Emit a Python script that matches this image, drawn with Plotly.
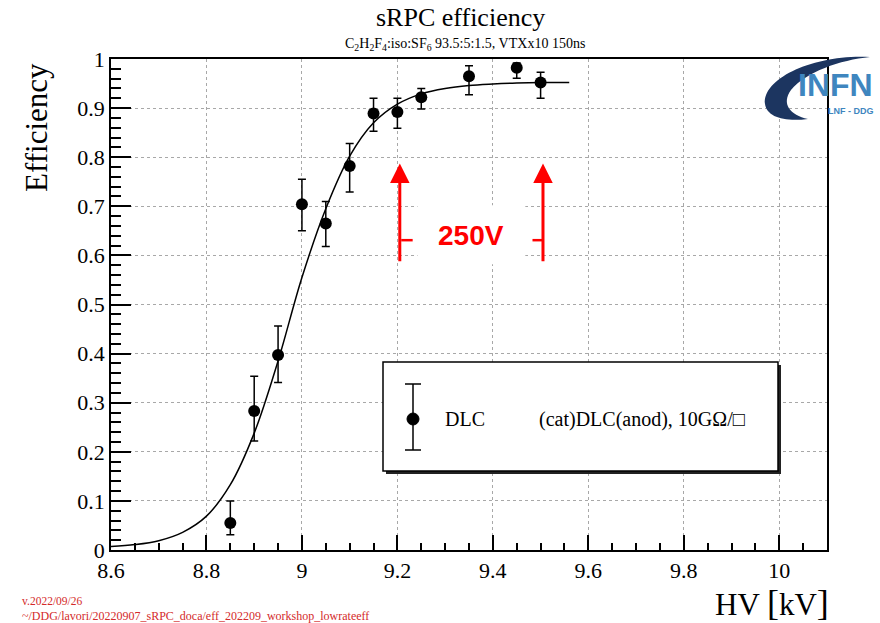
import plotly.graph_objects as go

# ---------------- data ----------------
hv = [8.85, 8.90, 8.95, 9.00, 9.05, 9.10, 9.15, 9.20, 9.25, 9.35, 9.45, 9.50]
eff = [0.055, 0.283, 0.397, 0.704, 0.665, 0.782, 0.889, 0.892, 0.922, 0.965, 0.982, 0.952]
err_up = [0.045, 0.071, 0.059, 0.051, 0.045, 0.046, 0.031, 0.028, 0.018, 0.021, 0.010, 0.021]
err_down = [0.024, 0.061, 0.056, 0.054, 0.047, 0.053, 0.036, 0.033, 0.024, 0.038, 0.021, 0.032]

fit_x = [8.60, 8.65, 8.70, 8.75, 8.80, 8.85, 8.90, 8.95, 9.00, 9.05, 9.10, 9.15,
         9.20, 9.25, 9.30, 9.35, 9.40, 9.45, 9.50, 9.56]
fit_y = [0.007, 0.011, 0.019, 0.036, 0.069, 0.133, 0.238, 0.385, 0.555, 0.695, 0.802, 0.870,
         0.908, 0.929, 0.940, 0.946, 0.949, 0.951, 0.952, 0.952]

arrow_hv = [9.205, 9.505]
arrow_eff = [0.585, 0.787]
arrow_label = "250V"

x_ticks = [8.6, 8.8, 9.0, 9.2, 9.4, 9.6, 9.8, 10.0]
x_ticklabels = ["8.6", "8.8", "9", "9.2", "9.4", "9.6", "9.8", "10"]
y_ticks = [0, 0.1, 0.2, 0.3, 0.4, 0.5, 0.6, 0.7, 0.8, 0.9, 1.0]
y_ticklabels = ["0", "0.1", "0.2", "0.3", "0.4", "0.5", "0.6", "0.7", "0.8", "0.9", "1"]

# ---------------- layout helpers ----------------
W, H = 880, 623
ML, MR, MT, MB = 111, 53, 59, 73
PW = W - ML - MR
PH = H - MT - MB


def px(x):
    return (x - ML) / PW


def py(y):
    return (H - MB - y) / PH


SERIF = "Liberation Serif, Times New Roman, serif"
SANS = "Liberation Sans, Arial, sans-serif"
RED = "#ff0000"

fig = go.Figure()

fig.add_trace(go.Scatter(
    x=fit_x, y=fit_y, mode="lines", line=dict(color="black", width=1.5, shape="spline", smoothing=1.0),
    hoverinfo="skip", showlegend=False))

fig.add_trace(go.Scatter(
    x=hv, y=eff, mode="markers",
    marker=dict(color="black", size=12),
    error_y=dict(type="data", symmetric=False, array=err_up, arrayminus=err_down,
                 color="black", thickness=1.5, width=4),
    showlegend=False, name="DLC"))

axis_common = dict(
    showline=True, linecolor="black", linewidth=1.5, mirror=True,
    ticks="inside", tickcolor="black", tickwidth=1.5,
    showgrid=True, gridcolor="#a8a8a8", griddash="dot", gridwidth=1,
    zeroline=False,
    tickfont=dict(family=SERIF, size=22, color="black"),
)

fig.update_xaxes(range=[8.6, 10.1], tickvals=x_ticks, ticktext=x_ticklabels, ticklen=15,
                 minor=dict(ticks="inside", dtick=0.05, tick0=8.6, ticklen=7, tickcolor="black",
                            tickwidth=1.5, showgrid=False),
                 **axis_common)
fig.update_yaxes(range=[0, 1], tickvals=y_ticks, ticktext=y_ticklabels, ticklen=20,
                 minor=dict(ticks="inside", dtick=0.02, tick0=0, ticklen=10, tickcolor="black",
                            tickwidth=1.5, showgrid=False),
                 **axis_common)

shapes = []
annotations = []

# white box behind the "250V" label (covers gridlines)
shapes.append(dict(type="rect", xref="x", yref="y", x0=9.242, x1=9.468, y0=0.582, y1=0.702,
                   fillcolor="white", line=dict(width=0), layer="between"))

# red arrows
for xa in arrow_hv:
    annotations.append(dict(x=xa, y=arrow_eff[1], ax=xa, ay=arrow_eff[0], xref="x", yref="y",
                            axref="x", ayref="y", text="", showarrow=True, arrowhead=2,
                            arrowsize=1.3, arrowwidth=3, arrowcolor=RED))
# small horizontal marks on the arrows
shapes.append(dict(type="line", xref="x", yref="y", x0=arrow_hv[0] + 0.003, x1=arrow_hv[0] + 0.027,
                   y0=0.631, y1=0.631, line=dict(color=RED, width=2.5)))
shapes.append(dict(type="line", xref="x", yref="y", x0=arrow_hv[1] - 0.022, x1=arrow_hv[1],
                   y0=0.631, y1=0.631, line=dict(color=RED, width=2.5)))
annotations.append(dict(x=9.354, y=0.641, xref="x", yref="y", text="<b>%s</b>" % arrow_label,
                        showarrow=False, font=dict(family=SANS, size=28, color=RED)))

# legend box with shadow
shapes.append(dict(type="rect", xref="paper", yref="paper", x0=px(386), x1=px(781), y0=py(474), y1=py(365),
                   fillcolor="#222222", line=dict(width=0), layer="above"))
shapes.append(dict(type="rect", xref="paper", yref="paper", x0=px(383), x1=px(778), y0=py(471), y1=py(362),
                   fillcolor="white", line=dict(color="black", width=1.5), layer="above"))
shapes.append(dict(type="line", xref="paper", yref="paper", x0=px(413), x1=px(413), y0=py(384), y1=py(450),
                   line=dict(color="black", width=1.5), layer="above"))
for yy in (384, 450):
    shapes.append(dict(type="line", xref="paper", yref="paper", x0=px(405), x1=px(421), y0=py(yy), y1=py(yy),
                       line=dict(color="black", width=1.5), layer="above"))
shapes.append(dict(type="circle", xref="paper", yref="paper", x0=px(407), x1=px(419), y0=py(425), y1=py(413),
                   fillcolor="black", line=dict(color="black", width=1), layer="above"))
annotations.append(dict(x=px(443), y=py(419), xref="paper", yref="paper", xanchor="left", yanchor="middle",
                        text="DLC", showarrow=False, font=dict(family=SERIF, size=20, color="black")))
annotations.append(dict(x=px(537), y=py(419), xref="paper", yref="paper", xanchor="left", yanchor="middle",
                        text="(cat)DLC(anod), 10G\u03a9/\u25a1", showarrow=False,
                        font=dict(family=SERIF, size=20, color="black")))

# titles
annotations.append(dict(x=px(460), y=py(18), xref="paper", yref="paper", xanchor="center", yanchor="middle",
                        text="sRPC efficiency", showarrow=False, font=dict(family=SERIF, size=26, color="black")))
annotations.append(dict(x=px(465), y=py(44), xref="paper", yref="paper", xanchor="center", yanchor="middle",
                        text="C<sub>2</sub>H<sub>2</sub>F<sub>4</sub>:iso:SF<sub>6</sub> 93.5:5:1.5, VTXx10 150ns",
                        showarrow=False, font=dict(family=SERIF, size=14, color="black")))
annotations.append(dict(x=px(36), y=py(128), xref="paper", yref="paper", xanchor="center", yanchor="middle",
                        text="Efficiency", textangle=-90, showarrow=False,
                        font=dict(family=SERIF, size=31, color="black")))
annotations.append(dict(x=px(831), y=py(603), xref="paper", yref="paper", xanchor="right", yanchor="middle",
                        text="HV <span style='font-size:36px'>[</span>kV<span style='font-size:36px'>]</span>",
                        showarrow=False, font=dict(family=SERIF, size=31, color="black")))

# footer
FOOT = "#d42a2a"
annotations.append(dict(x=px(20), y=py(601), xref="paper", yref="paper", xanchor="left", yanchor="middle",
                        text="v.2022/09/26", showarrow=False, font=dict(family=SERIF, size=11.5, color=FOOT)))
annotations.append(dict(x=px(20), y=py(616), xref="paper", yref="paper", xanchor="left", yanchor="middle",
                        text="~/DDG/lavori/20220907_sRPC_doca/eff_202209_workshop_lowrateeff", showarrow=False,
                        font=dict(family=SERIF, size=12, color=FOOT)))


# INFN logo
def pth(points):
    out = []
    for cmd, pts in points:
        coords = " ".join("%.5f,%.5f" % (px(a), py(b)) for a, b in pts)
        out.append(cmd + " " + coords if coords else cmd)
    return " ".join(out)


swoosh = pth([
    ("M", [(870, 57)]),
    ("C", [(815, 54), (762, 78), (765, 104)]),
    ("C", [(767, 117), (784, 122), (808, 119)]),
    ("C", [(790, 115), (781, 104), (791, 90)]),
    ("C", [(806, 72), (840, 60), (870, 57)]),
    ("Z", []),
])
shapes.append(dict(type="path", xref="paper", yref="paper", path=swoosh, fillcolor="#1c3560",
                   line=dict(width=0), layer="above"))
annotations.append(dict(x=px(835), y=py(85), xref="paper", yref="paper", xanchor="center", yanchor="middle",
                        text="<b>I</b><b>N</b><b>FN</b>", showarrow=False,
                        font=dict(family=SANS, size=32, color="#3f86bf")))
annotations.append(dict(x=px(851), y=py(111), xref="paper", yref="paper", xanchor="center", yanchor="middle",
                        text="<b>LNF - DDG</b>", showarrow=False,
                        font=dict(family=SANS, size=9, color="#3f86bf")))

fig.update_layout(
    width=W, height=H,
    margin=dict(l=ML, r=MR, t=MT, b=MB, pad=0),
    paper_bgcolor="white", plot_bgcolor="white",
    showlegend=False,
    shapes=shapes, annotations=annotations,
)

fig.write_html("out.html")
